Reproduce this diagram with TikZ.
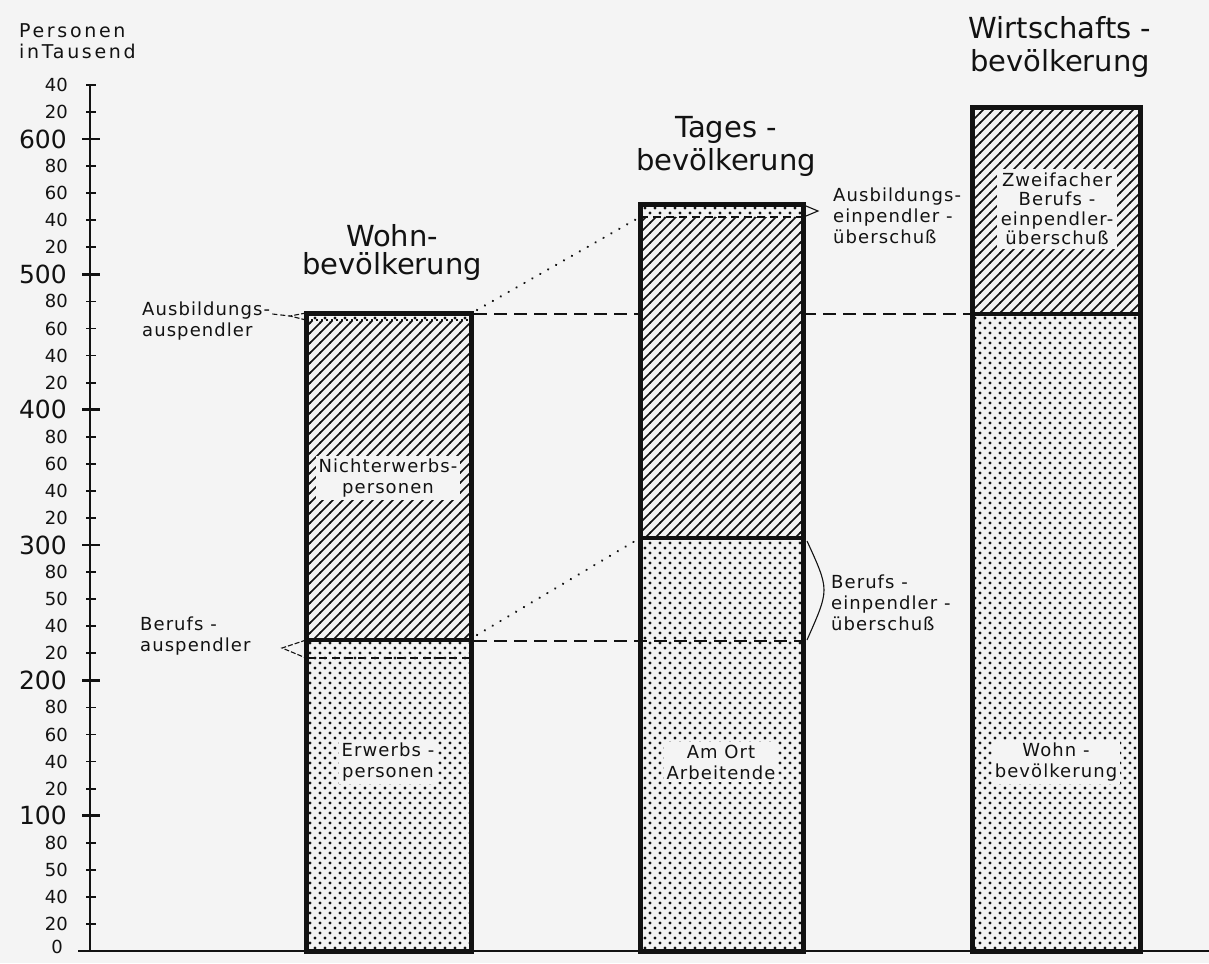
\documentclass[tikz,border=0pt]{standalone}
\usepackage{fontspec}
\setmainfont{DejaVu Sans}
\newfontfamily\lblfont[LetterSpace=6]{DejaVu Sans}
\newfontfamily\widefont[LetterSpace=14]{DejaVu Sans}
\usetikzlibrary{patterns}
\definecolor{paper}{RGB}{244,244,244}
\definecolor{ink}{RGB}{18,18,18}
\pgfdeclarepatternformonly{myhatch}{\pgfqpoint{-1pt}{-1pt}}{\pgfqpoint{11pt}{11pt}}{\pgfqpoint{10pt}{10pt}}{%
  \pgfsetlinewidth{1.6pt}\pgfpathmoveto{\pgfqpoint{-1pt}{-1pt}}\pgfpathlineto{\pgfqpoint{11pt}{11pt}}\pgfusepath{stroke}}
\pgfdeclarepatternformonly{mydots}{\pgfqpoint{-2pt}{-2pt}}{\pgfqpoint{12pt}{12pt}}{\pgfqpoint{10pt}{10pt}}{%
  \pgfpathcircle{\pgfqpoint{0pt}{0pt}}{1.7pt}\pgfpathcircle{\pgfqpoint{5pt}{5pt}}{1.7pt}\pgfusepath{fill}}
\begin{document}
\begin{tikzpicture}[x=1pt,y=-1pt,
  every node/.style={text=ink, inner sep=0pt},
  title/.style={align=center},
  small/.style={font=\lblfont\fontsize{18}{21}\selectfont},
  digmin/.style={font=\fontsize{18}{18}\selectfont, anchor=east},
  digmaj/.style={font=\fontsize{25}{25}\selectfont, anchor=east},
  barframe/.style={draw=ink, line width=5pt},
  hatchfill/.style={pattern=myhatch, pattern color=ink},
  dotfill/.style={pattern=mydots, pattern color=ink},
  sepline/.style={draw=ink, line width=3.5pt},
  dashline/.style={draw=ink, line width=2.6pt, dash pattern=on 13pt off 7pt},
  innerdash/.style={draw=ink, line width=2pt, dash pattern=on 8pt off 5pt},
  dotline/.style={draw=ink, line width=2.4pt, dash pattern=on 0.1pt off 9pt, line cap=round},
  thinline/.style={draw=ink, line width=1.1pt},
  inlabel/.style={small, align=center, fill=paper, inner sep=3pt},
]
\fill[paper] (0,0) rectangle (1209,963);
\useasboundingbox (0,0) rectangle (1209,963);

% axes
\coordinate (axtop) at (90,85);
\coordinate (axbot) at (90,951);
\coordinate (xstart) at (78,951);
\coordinate (xend) at (1209,951);
\draw[ink, line width=2.4pt] (axtop) -- (axbot);
\draw[ink, line width=2.4pt] (xstart) -- (xend);
\foreach \v in {20,40,...,640}{
  \pgfmathsetmacro{\yy}{951-1.3533*\v}
  \pgfmathtruncatemacro{\m}{mod(\v,100)}
  \ifnum\m=0
    \draw[ink,line width=2.4pt] (82,\yy) -- (100,\yy);
    \node[digmaj] (tick\v) at (67,\yy) {\v};
  \else
    \draw[ink,line width=1.8pt] (86,\yy) -- (96,\yy);
    \ifnum\v=260 \def\ticklab{50}\else\ifnum\v=60 \def\ticklab{50}\else\edef\ticklab{\m}\fi\fi
    \node[digmin] (tick\v) at (68,\yy) {\ticklab};
  \fi
}
\node[digmin] (tick0) at (63,947) {0};
\node[font=\widefont\fontsize{19}{21}\selectfont, align=left, anchor=west] (unit) at (19,41) {Personen\\inTausend};

% bar 1: Wohnbevoelkerung
\coordinate (b1tl) at (306,313);
\coordinate (b1tr) at (471,313);
\coordinate (b1bl) at (306,320);
\coordinate (b1ml) at (306,640);
\coordinate (b1mr) at (471,640);
\coordinate (b1dl) at (306,658);
\fill[dotfill] (306,313) rectangle (471,321);
\fill[hatchfill] (306,321) rectangle (471,640);
\fill[dotfill] (306,640) rectangle (471,951);
\draw[innerdash] (b1dl) -- (471,658);
\draw[ink, line width=1.6pt, dash pattern=on 2pt off 3pt] (b1bl) -- (471,320);
\draw[sepline] (b1ml) -- (b1mr);
\draw[barframe] (306,313) rectangle (471,951);

% bar 2: Tagesbevoelkerung
\coordinate (b2tl) at (640,204);
\coordinate (b2tr) at (803,204);
\coordinate (b2bl) at (640,217);
\coordinate (b2br) at (803,217);
\coordinate (b2ml) at (640,538);
\coordinate (b2mr) at (803,538);
\fill[dotfill] (640,204) rectangle (803,217);
\fill[hatchfill] (640,217) rectangle (803,538);
\fill[dotfill] (640,538) rectangle (803,951);
\draw[innerdash] (b2bl) -- (b2br);
\draw[sepline] (b2ml) -- (b2mr);
\draw[barframe] (640,204) rectangle (803,951);

% bar 3: Wirtschaftsbevoelkerung
\coordinate (b3ml) at (972,314);
\fill[hatchfill] (972,108) rectangle (1140,314);
\fill[dotfill] (972,314) rectangle (1140,951);
\draw[sepline] (b3ml) -- (1140,314);
\draw[barframe] (972,108) rectangle (1140,951);

% connectors
\coordinate (d1a) at (640,314);
\coordinate (d1b) at (803,314);
\draw[dashline] (b1tr) ++(3,1) -- (d1a);
\draw[dashline] (d1b) -- (b3ml);
\coordinate (d2end) at (803,641);
\draw[dashline] (b1mr) ++(3,1) -- (d2end);
\draw[dotline] (477,310) -- (b2bl);
\draw[dotline] (477,635) -- (b2ml);

% markers
\coordinate (tipA) at (290,316);
\coordinate (tipB) at (282,648);
\coordinate (tipC) at (818,211);
\coordinate (braceTip) at (824,590);
\draw[thinline, dash pattern=on 5pt off 2pt] (b1tl) -- (tipA) -- (b1bl);
\draw[thinline, dash pattern=on 5pt off 2pt] (b1ml) -- (tipB) -- (b1dl);
\draw[thinline] (806,206) -- (tipC) -- (806,216);
\draw[thinline] (807,541) .. controls (818,565) and (824,578) .. (braceTip) .. controls (824,602) and (818,615) .. (807,640);

% titles
\node[title, font=\fontsize{29}{28}\selectfont] (tw) at (392,252) {Wohn-\\bevölkerung};
\node[title, font=\fontsize{29}{33}\selectfont] (tt) at (726,146) {Tages -\\bevölkerung};
\node[title, font=\fontsize{29}{33}\selectfont] (tz) at (1060,47) {Wirtschafts -\\bevölkerung};

% side labels
\node[small, align=left, anchor=west] (la) at (142,321) {Ausbildungs-\\auspendler};
\draw[thinline, dash pattern=on 5pt off 3pt] (la.east |- tipA) ++(2,-2) -- (tipA);
\node[small, align=left, anchor=west] (lb) at (140,636) {Berufs -\\auspendler};
\node[small, align=left, anchor=west] (lc) at (833,216) {Ausbildungs-\\einpendler -\\überschuß};
\node[small, align=left, anchor=west] (ld) at (831,603) {Berufs -\\einpendler -\\überschuß};

% inner labels
\node[inlabel] (ln) at (388,478) {Nichterwerbs-\\personen};
\node[inlabel] (le) at (388,762) {Erwerbs -\\personen};
\node[inlabel] (lo) at (721,762) {Am Ort\\Arbeitende};
\node[inlabel] (lw) at (1056,762) {Wohn -\\bevölkerung};
\node[inlabel, font=\lblfont\fontsize{18}{19.5}\selectfont, inner sep=4pt] (lz) at (1057,209) {Zweifacher\\Berufs -\\einpendler-\\überschuß};
\end{tikzpicture}
\end{document}
